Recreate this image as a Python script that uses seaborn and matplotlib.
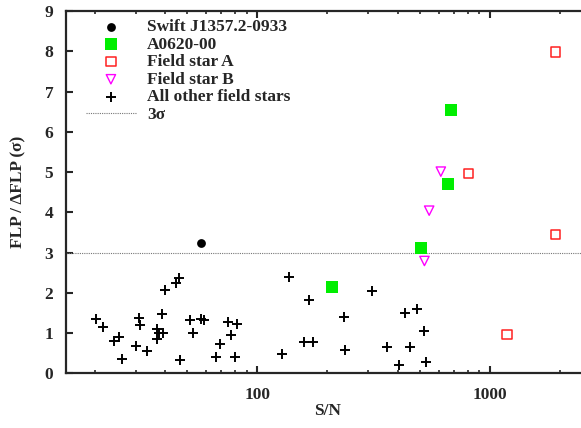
import numpy as np
import pandas as pd
import matplotlib
matplotlib.use("Agg")
import matplotlib.pyplot as plt
from matplotlib.ticker import LogLocator, FixedLocator, FixedFormatter, NullFormatter
import seaborn as sns

# S/N and FLP/dFLP values
swift_sn = [57.3]
swift_flp = [3.23]

a0620_sn = [209, 507, 662, 678]
a0620_flp = [2.15, 3.12, 4.70, 6.53]

star_a_sn = [807, 1180, 1916, 1916]
star_a_flp = [4.96, 0.96, 7.98, 3.45]

star_b_sn = [522, 547, 614]
star_b_flp = [2.79, 4.04, 5.01]

other_sn = [20.3, 21.7, 24.2, 25.4, 26.3, 30.2, 30.9, 31.4, 33.5, 37.0,
            37.2, 37.8, 39.2, 39.0, 40.1, 44.8, 46.2, 46.7, 51.5, 52.9,
            57.4, 58.9, 66.3, 69.3, 75.0, 77.3, 80.2, 82.0, 127, 137,
            166, 159, 173, 235, 237, 310, 362, 404, 430, 454,
            487, 522, 532]
other_flp = [1.36, 1.14, 0.79, 0.91, 0.36, 0.68, 1.38, 1.19, 0.55, 1.09,
             0.85, 0.99, 1.01, 1.47, 2.06, 2.24, 2.37, 0.32, 1.33, 1.00,
             1.36, 1.33, 0.41, 0.74, 1.28, 0.96, 0.41, 1.23, 0.47, 2.38,
             1.83, 0.78, 0.77, 1.39, 0.57, 2.05, 0.65, 0.21, 1.49, 0.66,
             1.59, 1.06, 0.27]

sigma_level = 3

sns.set_style("ticks")
plt.rcParams['font.family'] = ['Liberation Serif', 'DejaVu Serif']
plt.rcParams['font.weight'] = 'bold'
plt.rcParams['axes.labelweight'] = 'bold'

fig = plt.figure(figsize=(5.81, 4.28), dpi=100)
# right edge sits just past the canvas, like the cropped original
ax = fig.add_axes([0.1131, 0.1278, 0.9, 0.8465])

# 3 sigma line
ax.axhline(sigma_level, color='#777777', lw=0.8, ls=(0, (1, 1)), label='3σ', zorder=1)

sns.scatterplot(x=swift_sn, y=swift_flp, ax=ax, marker='o', s=40, color='black',
                edgecolor='black', linewidth=0, label='Swift J1357.2-0933', zorder=3)
sns.scatterplot(x=a0620_sn, y=a0620_flp, ax=ax, marker='s', s=75, color='#00ee00',
                edgecolor='#00ee00', linewidth=0, label='A0620-00', zorder=3)
sns.scatterplot(x=star_a_sn, y=star_a_flp, ax=ax, marker='s', s=45, facecolor='none',
                edgecolor='#ff2020', linewidth=1.1, label='Field star A', zorder=3)
sns.scatterplot(x=star_b_sn, y=star_b_flp, ax=ax, marker='v', s=45, facecolor='none',
                edgecolor='#ff00ff', linewidth=1.0, label='Field star B', zorder=3)
sns.scatterplot(x=other_sn, y=other_flp, ax=ax, marker='+', s=45, color='black',
                linewidth=1.4, label='All other field stars', zorder=3)

ax.set_xscale('log')
ax.set_xlim(15, 2650)
ax.set_ylim(0, 9)

ax.set_yticks(range(0, 10))
ax.xaxis.set_major_locator(FixedLocator([100, 1000]))
ax.xaxis.set_major_formatter(FixedFormatter(['100', '1000']))
ax.xaxis.set_minor_locator(LogLocator(base=10, subs=np.arange(2, 10)))
ax.xaxis.set_minor_formatter(NullFormatter())

ax.tick_params(which='both', direction='in', top=True, right=True, labelsize=12.5)
ax.tick_params(which='major', length=5, width=1.5)
ax.tick_params(which='minor', length=2.5, width=1.2)
ax.tick_params(axis='x', which='major', pad=10)
ax.tick_params(axis='y', which='major', pad=9)
for side in ['left', 'bottom', 'top', 'right']:
    ax.spines[side].set_linewidth(1.6)

ax.set_xlabel('S/N', fontsize=12.5, labelpad=0)
ax.set_ylabel('FLP / ΔFLP (σ)', fontsize=12.5, labelpad=13)

handles, labels = ax.get_legend_handles_labels()
order = ['Swift J1357.2-0933', 'A0620-00', 'Field star A', 'Field star B',
         'All other field stars', '3σ']
hmap = dict(zip(labels, handles))
ax.legend([hmap[k] for k in order], order, loc='upper left', frameon=False,
          fontsize=12.5, handlelength=2.9, handletextpad=0.63, labelspacing=0.08,
          borderaxespad=0.0, bbox_to_anchor=(0.025, 0.997))

fig.savefig('out.png', dpi=100)
